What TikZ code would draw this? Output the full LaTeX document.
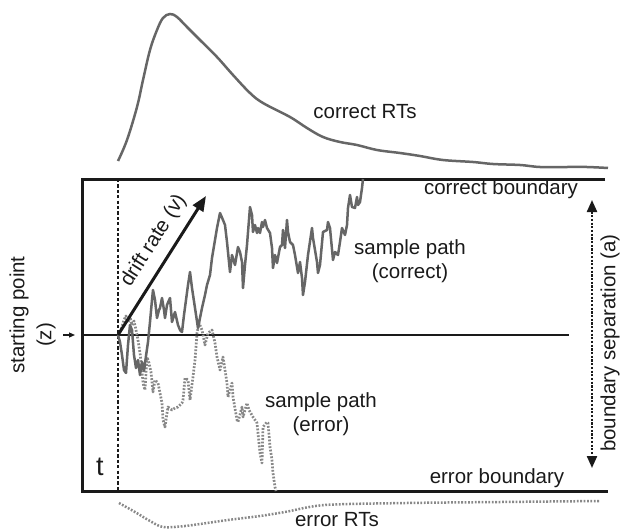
\documentclass[tikz,border=0pt]{standalone}
\usepackage{fontspec}
\setmainfont{Liberation Sans}
\usetikzlibrary{arrows.meta}
\definecolor{ink}{HTML}{1A1A1A}
\definecolor{pathgray}{HTML}{666666}
\definecolor{errgray}{HTML}{888888}
\tikzset{
  lbl/.style={font=\fontsize{20.5}{24}\selectfont, text=ink, inner sep=0pt},
  bigt/.style={font=\fontsize{27}{30}\selectfont, text=ink, inner sep=0pt},
  boxline/.style={draw=ink, line width=3pt},
  midline/.style={draw=ink, line width=2.6pt},
  tline/.style={draw=ink, line width=2.6pt, dash pattern=on 3.2pt off 2.2pt},
  corrpath/.style={draw=pathgray, line width=2.5pt, line join=round},
  errpath/.style={draw=errgray, line width=2.7pt, dash pattern=on 1.8pt off 1.6pt, line join=round},
  rtcurve/.style={draw=pathgray, line width=2.5pt},
  errcurve/.style={draw=errgray, line width=2.5pt, dash pattern=on 1.8pt off 1.6pt},
  driftarrow/.style={draw=ink, line width=3pt, -{Triangle[length=15pt,width=12pt]}},
  separrow/.style={draw=ink, line width=2.2pt, dash pattern=on 2.2pt off 1.5pt,
     {Triangle[length=12pt,width=10pt]}-{Triangle[length=12pt,width=10pt]}},
  zarrow/.style={draw=ink, line width=1.2pt, -{Triangle[length=6pt,width=5pt]}}
}
\begin{document}
\begin{tikzpicture}[x=1pt,y=-1pt]
\useasboundingbox (0,0) rectangle (633,530);
% frame
\coordinate (tl) at (82,179);
\coordinate (tr) at (605,179);
\coordinate (bl) at (82,491);
\coordinate (br) at (608,491);
\coordinate (zl) at (82,335);
\coordinate (zr) at (569,335);
\coordinate (tt) at (118,179);
\coordinate (tb) at (118,491);
\coordinate (start) at (118,335);
\coordinate (drifttip) at (206,196);
\coordinate (septop) at (592,200);
\coordinate (sepbot) at (592,468);
\coordinate (zarrS) at (63,335);
\coordinate (zarrE) at (75,335);

\draw[boxline] (tr) -- (tl) -- (bl) -- (br);
\draw[midline] (zl) -- (zr);
\draw[tline] (tt) -- (tb);

% correct RT distribution
\draw[rtcurve] plot[smooth, tension=0.6] coordinates {
 (118,161) (127,140) (137,107) (143,80) (150,50) (157,30) (163,18) (170,14)
 (177,17) (187,27) (200,40) (217,57) (233,75) (250,93) (263,103) (290,117)
 (307,128) (323,137) (340,142) (357,145) (377,150) (400,153) (420,156)
 (443,160) (473,162) (493,164) (520,165) (540,167) (567,167) (587,167) (608,168)};

% error RT distribution
\draw[errcurve] plot[smooth, tension=0.5] coordinates {
 (119,503) (135,512) (150,521) (163,527) (185,526) (228,520) (260,516)
 (285,512) (325,505) (407,503) (500,502) (600,501)};

% error sample path
\draw[errpath] plot coordinates {
 (118,335) (121,330) (124,320) (126,316) (128,322) (130,317) (132,325) (134,321)
 (136,330) (138,340) (140,353) (142,370) (143,383) (145,390) (147,357) (149,363)
 (151,372) (153,392) (155,380) (158,383) (160,393) (162,403) (163,420) (165,427)
 (167,413) (168,407) (172,410) (175,408) (178,407) (182,403) (183,400) (185,378)
 (188,380) (190,400) (193,377) (195,360) (197,333) (199,323) (202,330) (205,345)
 (208,333) (212,330) (215,343) (217,357) (220,370) (223,357) (225,370) (227,383)
 (228,397) (232,383) (233,397) (237,420) (238,422) (242,407) (243,417) (247,403)
 (249,410) (253,417) (257,423) (258,433) (260,453) (262,463) (263,427) (267,422)
 (268,423) (270,447) (272,460) (273,473) (275,487) (276,491)};

% correct sample path
\draw[corrpath] plot coordinates {
 (118,335) (120,342) (122,355) (124,370) (126,373) (128,345) (130,325) (132,330)
 (134,355) (136,368) (138,360) (140,375) (142,362) (144,371) (146,356) (148,342)
 (150,322) (152,300) (153,290) (155,300) (157,318) (159,310) (160,308) (162,298)
 (164,310) (165,318) (167,305) (170,298) (172,322) (175,312) (178,325) (180,330)
 (182,332) (184,315) (186,300) (188,285) (190,272) (192,288) (195,308) (198,328)
 (200,318) (202,308) (205,295) (207,285) (210,275) (212,258) (215,240) (217,228)
 (220,213) (223,220) (225,225) (227,242) (230,272) (232,255) (235,265) (238,247)
 (240,252) (242,262) (243,288) (245,265) (247,245) (250,207) (252,215) (253,232)
 (255,225) (257,233) (258,228) (260,233) (262,222) (263,227) (265,220) (267,228)
 (270,233) (272,248) (273,268) (275,255) (277,263) (280,247) (282,245) (283,230)
 (285,248) (287,220) (288,232) (290,242) (293,245) (295,255) (298,273) (300,262)
 (302,278) (303,295) (305,282) (308,255) (312,228) (313,238) (317,262) (318,273)
 (320,265) (323,232) (327,230) (328,222) (330,228) (333,260) (335,252) (338,255)
 (340,242) (342,228) (345,235) (347,225) (348,208) (350,195) (352,207) (355,208)
 (357,197) (358,205) (360,202) (362,188) (363,179)};

% drift arrow
\draw[driftarrow] (start) -- (drifttip)
  node[lbl, pos=0.6, sloped, above=9pt] (drift) {drift rate (v)};

% boundary separation arrow
\draw[separrow] (septop) -- (sepbot);
\node[lbl, rotate=90] (seplbl) at (610,343) {boundary separation (a)};

% starting point
\node[lbl, rotate=90] (sp) at (19,315) {starting point};
\node[lbl, rotate=90] (zlbl) at (46,335) {(z)};
\draw[zarrow] (zarrS) -- (zarrE);

% labels
\node[lbl] (crt) at (365,112) {correct RTs};
\node[lbl] (ert) at (337,520) {error RTs};
\node[lbl] (cb) at (501,189) {correct boundary};
\node[lbl] (eb) at (497,478) {error boundary};
\node[lbl, align=center] (spc) at (410,261) {sample path\\(correct)};
\node[lbl, align=center] (spe) at (321,414) {sample path\\(error)};
\node[bigt] (tlbl) at (100,467) {t};
\end{tikzpicture}
\end{document}
